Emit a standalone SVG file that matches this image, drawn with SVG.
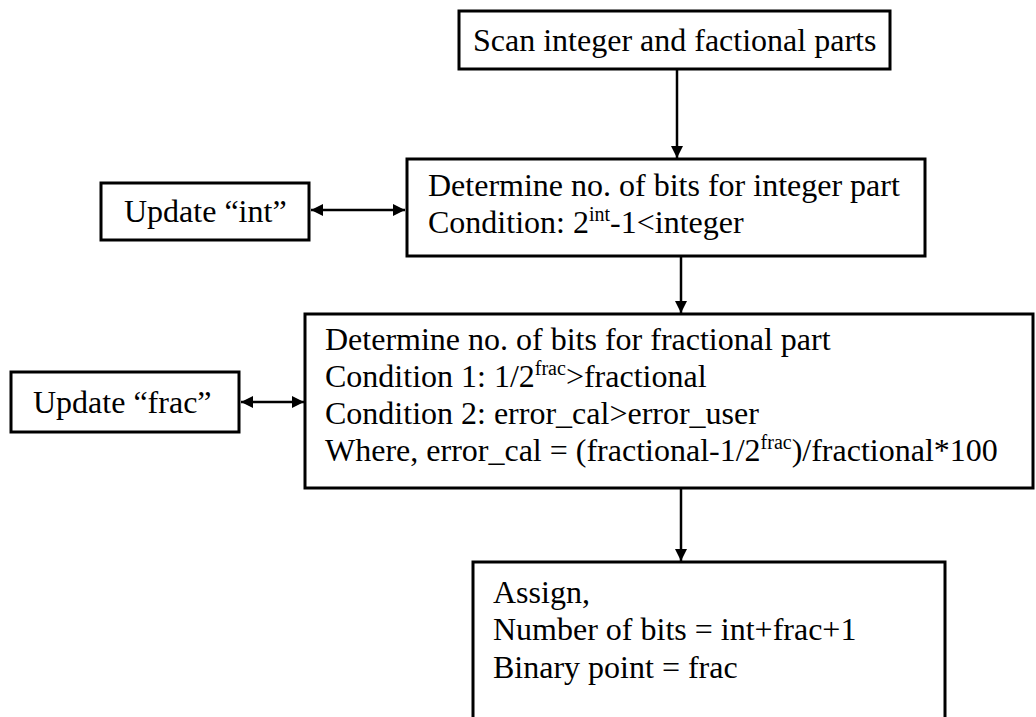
<svg xmlns="http://www.w3.org/2000/svg" width="1036" height="717" viewBox="0 0 1036 717">
<defs>
<style>
.box{fill:#fff;stroke:#000;stroke-width:3}
.t{font-family:"Liberation Serif","Times New Roman",Tinos,"DejaVu Serif",serif;font-size:32px;fill:#000}
.sup{font-size:20px}
.ln{stroke:#000;stroke-width:2.5;fill:none}
</style>
<marker id="ah" viewBox="0 0 12 12" refX="12" refY="6" markerWidth="12" markerHeight="12" markerUnits="userSpaceOnUse" orient="auto-start-reverse">
<path d="M0,0 L12,6 L0,12 z" fill="#000"/>
</marker>
</defs>
<rect width="1036" height="717" fill="#fff"/>
<g id="connectors">
<line class="ln" x1="677" y1="69" x2="677" y2="158" marker-end="url(#ah)"/>
<line class="ln" x1="681" y1="256" x2="681" y2="313" marker-end="url(#ah)"/>
<line class="ln" x1="681" y1="488" x2="681" y2="561" marker-end="url(#ah)"/>
<line class="ln" x1="311" y1="210" x2="405" y2="210" marker-start="url(#ah)" marker-end="url(#ah)"/>
<line class="ln" x1="241" y1="402" x2="304" y2="402" marker-start="url(#ah)" marker-end="url(#ah)"/>
</g>
<g id="scan">
<rect class="box" x="459" y="11" width="431" height="58"/>
<text class="t" x="473" y="51">Scan integer and factional parts</text>
</g>
<g id="intbits">
<rect class="box" x="407" y="159" width="518" height="97"/>
<text class="t" x="428" y="196">Determine no. of bits for integer part</text>
<text class="t" x="428" y="233">Condition: 2<tspan class="sup" dy="-12">int</tspan><tspan dy="12">-1&lt;integer</tspan></text>
</g>
<g id="updint">
<rect class="box" x="101" y="183" width="208" height="57"/>
<text class="t" x="124" y="222">Update “int”</text>
</g>
<g id="fracbits">
<rect class="box" x="305" y="314" width="728" height="174"/>
<text class="t" x="325" y="350">Determine no. of bits for fractional part</text>
<text class="t" x="325" y="387">Condition 1: 1/2<tspan class="sup" dy="-12">frac</tspan><tspan dy="12">&gt;fractional</tspan></text>
<text class="t" x="325" y="424">Condition 2: error_cal&gt;error_user</text>
<text class="t" x="325" y="461">Where, error_cal = (fractional-1/2<tspan class="sup" dy="-12">frac</tspan><tspan dy="12">)/fractional*100</tspan></text>
</g>
<g id="updfrac">
<rect class="box" x="11" y="372" width="228" height="60"/>
<text class="t" x="33" y="413">Update “frac”</text>
</g>
<g id="assign">
<rect class="box" x="473" y="562" width="472" height="170"/>
<text class="t" x="493" y="603">Assign,</text>
<text class="t" x="493" y="640">Number of bits = int+frac+1</text>
<text class="t" x="493" y="678">Binary point = frac</text>
</g>
</svg>
